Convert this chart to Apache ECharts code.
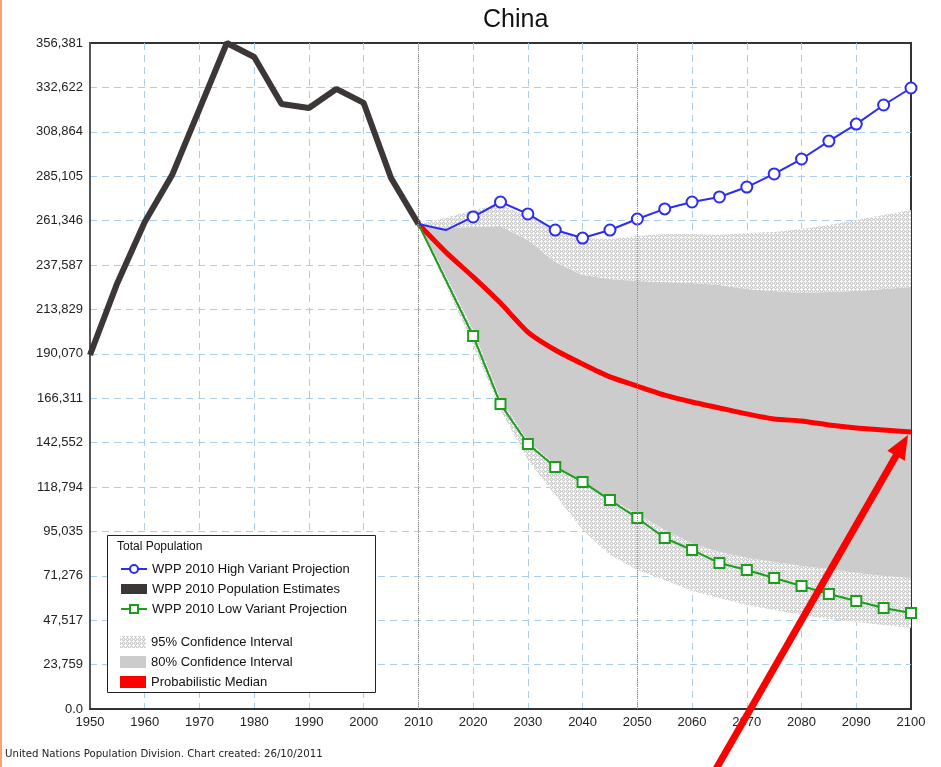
<!DOCTYPE html>
<html>
<head>
<meta charset="utf-8">
<title>China</title>
<script src="https://cdn.jsdelivr.net/npm/echarts@6/dist/echarts.min.js"></script>
<style>
html, body { margin: 0; padding: 0; background: #fff; }
#main { width: 941px; height: 767px; }
</style>
</head>
<body>
<div id="main"></div>
<script>
// population estimates 1950-2010
var estYears = [1950, 1955, 1960, 1965, 1970, 1975, 1980, 1985, 1990, 1995, 2000, 2005, 2010];
var estValues = [189400, 228000, 260600, 285700, 321000, 356381, 348900, 323700, 321600, 331800, 324300, 284100, 259500];

// projections 2010-2100
var projYears = [2010, 2015, 2020, 2025, 2030, 2035, 2040, 2045, 2050, 2055, 2060, 2065, 2070, 2075, 2080, 2085, 2090, 2095, 2100];
var highValues = [259500, 256300, 263300, 271300, 264900, 256300, 252000, 256300, 262200, 267600, 271300, 274000, 279300, 286300, 294300, 303900, 313000, 323200, 332300];
var lowValues = [259500, 229600, 199600, 163200, 141800, 129500, 121500, 111800, 102200, 91500, 85100, 78100, 74400, 70100, 65800, 61500, 57800, 54000, 51400];
var medianValues = [259500, 244500, 231200, 217200, 201700, 192100, 184600, 177700, 172800, 168000, 164300, 161100, 157900, 155200, 154100, 152000, 150400, 149300, 148200];
var lower95 = [259500, 226900, 194800, 160000, 133200, 114500, 95800, 82400, 74400, 69000, 63100, 59400, 55700, 53000, 50300, 48200, 46600, 44900, 43300];
var lower80 = [259500, 232200, 203000, 166000, 143500, 130500, 121500, 112500, 104500, 95800, 88500, 84000, 81000, 78700, 76500, 74900, 72800, 71200, 70100];
var upper80 = [259500, 257400, 257900, 258500, 251000, 239200, 232200, 230100, 229000, 228500, 228000, 226900, 224700, 223700, 222600, 223100, 223700, 224700, 225800];
var upper95 = [259500, 262700, 267000, 269700, 263800, 256800, 252000, 251500, 253100, 254200, 254200, 253600, 254700, 255200, 256800, 259000, 261700, 264300, 267000];

var yTickLabels = ['0.0', '23,759', '47,517', '71,276', '95,035', '118,794', '142,552', '166,311', '190,070',
  '213,829', '237,587', '261,346', '285,105', '308,864', '332,622', '356,381'];
var yMax = 356381;
var yStep = yMax / 15;

var FONT = "'Liberation Sans', Arial, sans-serif";

// 5-year categories along the x axis
var xCategories = estYears.concat(projYears.slice(1)).map(String);

function pairs(xs, ys) {
  return xs.map(function (x, i) { return [String(x), ys[i]]; });
}
function diff(a, b) {
  return a.map(function (v, i) { return v - b[i]; });
}
// the variants carry no marker at 2010 and 2015
function variantData(values) {
  return pairs(projYears, values).map(function (p, i) {
    return i < 2 ? { value: p, symbol: 'none' } : p;
  });
}

// light cross-hatch used for the 95% interval
function hatch() {
  var c = document.createElement('canvas');
  c.width = 4; c.height = 4;
  var ctx = c.getContext('2d');
  ctx.fillStyle = '#d2d2d2';
  ctx.fillRect(0, 0, 4, 4);
  ctx.fillStyle = '#ffffff';
  [[1, 0], [0, 1], [1, 1], [2, 1], [1, 2], [3, 3]].forEach(function (p) { ctx.fillRect(p[0], p[1], 1, 1); });
  return { image: c, repeat: 'repeat' };
}
var hatchFill = hatch();

var chart = echarts.init(document.getElementById('main'));

var bandLine = { width: 0, opacity: 0 };

var option = {
  backgroundColor: '#fff',
  animation: false,
  title: {
    text: 'China',
    left: 478,
    top: 3,
    textStyle: { fontFamily: FONT, fontSize: 25, fontWeight: 'normal', color: '#111' }
  },
  grid: {
    left: 90, right: 30, top: 43, bottom: 58,
    show: true, borderColor: '#333', borderWidth: 2
  },
  xAxis: {
    type: 'category',
    data: xCategories,
    boundaryGap: false,
    axisLine: { show: true, lineStyle: { color: '#333', width: 2 } },
    axisTick: { show: false },
    axisLabel: { color: '#222', fontSize: 13, fontFamily: FONT, margin: 7, interval: 1 },
    splitLine: { show: true, interval: 1, showMinLine: false, showMaxLine: false, lineStyle: { color: '#a9cfe8', type: [7, 5], width: 1 } }
  },
  yAxis: {
    type: 'value',
    min: 0, max: yMax, interval: yStep,
    axisLine: { show: true, lineStyle: { color: '#555', width: 2 } },
    axisTick: { show: false },
    axisLabel: {
      color: '#222', fontSize: 13, fontFamily: FONT, margin: 7,
      formatter: function (v) { return yTickLabels[Math.round(v / yStep)]; }
    },
    splitLine: { show: true, showMinLine: false, showMaxLine: false, lineStyle: { color: '#a9cfe8', type: [7, 5], width: 1 } }
  },
  legend: [
    {
      left: 115, top: 557, orient: 'vertical',
      itemWidth: 26, itemHeight: 10, itemGap: 6,
      selectedMode: false, z: 5,
      textStyle: { fontFamily: FONT, fontSize: 13, color: '#111', lineHeight: 14 },
      data: [
        { name: 'WPP 2010 High Variant Projection' },
        { name: 'WPP 2010 Population Estimates', icon: 'rect', itemStyle: { color: '#3c3636' } },
        { name: 'WPP 2010 Low Variant Projection' }
      ]
    },
    {
      left: 115, top: 630, orient: 'vertical',
      itemWidth: 26, itemHeight: 12, itemGap: 6,
      selectedMode: false, z: 5,
      textStyle: { fontFamily: FONT, fontSize: 13, color: '#111', lineHeight: 14 },
      data: [
        { name: '95% Confidence Interval', icon: 'rect', itemStyle: { color: hatchFill } },
        { name: '80% Confidence Interval', icon: 'rect', itemStyle: { color: '#cccccc' } },
        { name: 'Probabilistic Median', icon: 'rect', itemStyle: { color: '#ff0000' } }
      ]
    }
  ],
  graphic: [
    { id: 'edge', type: 'rect', left: 0, top: 0, shape: { width: 2, height: 767 }, style: { fill: '#f5a46e' } },
    {
      id: 'legendBox', type: 'rect', left: 107, top: 535, z: 4,
      shape: { width: 268, height: 157 },
      style: { fill: '#fff', stroke: '#222', lineWidth: 1 }
    },
    {
      id: 'legendTitle', type: 'text', left: 117, top: 541, z: 5,
      style: { text: 'Total Population', font: '12px ' + FONT, fill: '#111' }
    },
    {
      id: 'footer', type: 'text', left: 5, top: 749,
      style: { text: 'United Nations Population Division. Chart created: 26/10/2011', font: '10.2px "DejaVu Sans", Verdana, sans-serif', fill: '#222' }
    }
  ],
  series: [
    {
      name: 'ciBase', type: 'line', stack: 'ci', silent: true,
      data: pairs(projYears, lower95), showSymbol: false, symbol: 'none',
      lineStyle: bandLine
    },
    {
      name: '95% Confidence Interval', type: 'line', stack: 'ci', silent: true,
      data: pairs(projYears, diff(lower80, lower95)), showSymbol: false, symbol: 'none',
      itemStyle: { color: '#dcdcdc' },
      lineStyle: bandLine, areaStyle: { color: hatchFill, opacity: 1 }
    },
    {
      name: '80% Confidence Interval', type: 'line', stack: 'ci', silent: true,
      data: pairs(projYears, diff(upper80, lower80)), showSymbol: false, symbol: 'none',
      itemStyle: { color: '#cccccc' },
      lineStyle: bandLine, areaStyle: { color: '#cccccc', opacity: 1 }
    },
    {
      name: '95% Confidence Interval', type: 'line', stack: 'ci', silent: true,
      data: pairs(projYears, diff(upper95, upper80)), showSymbol: false, symbol: 'none',
      itemStyle: { color: '#dcdcdc' },
      lineStyle: bandLine, areaStyle: { color: hatchFill, opacity: 1 }
    },
    {
      name: 'WPP 2010 Population Estimates', type: 'line',
      data: pairs(estYears, estValues), showSymbol: false, symbol: 'none',
      itemStyle: { color: '#3c3636' },
      lineStyle: { color: '#3c3636', width: 6 },
      markLine: {
        silent: true, symbol: 'none', label: { show: false },
        lineStyle: { color: '#8a8a8a', type: 'dotted', width: 1 },
        data: [{ xAxis: '2010' }, { xAxis: '2050' }]
      }
    },
    {
      name: 'Probabilistic Median', type: 'line',
      data: pairs(projYears, medianValues), showSymbol: false, symbol: 'none', smooth: 0.2,
      itemStyle: { color: '#ff0000' },
      lineStyle: { color: '#ff0000', width: 5 }
    },
    {
      name: 'WPP 2010 Low Variant Projection', type: 'line',
      data: variantData(lowValues),
      symbol: 'emptyRect', symbolSize: 10,
      itemStyle: { color: '#1c9e1c', borderWidth: 2 },
      lineStyle: { color: '#1c9e1c', width: 2 }
    },
    {
      name: 'WPP 2010 High Variant Projection', type: 'line',
      data: variantData(highValues),
      symbol: 'emptyCircle', symbolSize: 11,
      itemStyle: { color: '#2d2df2', borderWidth: 2 },
      lineStyle: { color: '#2d2df2', width: 2 }
    }
  ]
};

chart.setOption(option);

// red arrow pointing at the 2100 median
var last = projYears.length - 1;
var tip = chart.convertToPixel({ gridIndex: 0 }, [String(projYears[last]), medianValues[last]]);
tip = [tip[0] - 3, tip[1] + 3];
var dx = -192, dy = 334;
var len = Math.sqrt(dx * dx + dy * dy);
var ux = dx / len, uy = dy / len;
var headLen = 24, headHalf = 10;
var base = [tip[0] + ux * headLen, tip[1] + uy * headLen];
var px = -uy, py = ux;
chart.setOption({
  graphic: [
    {
      id: 'arrowShaft', type: 'line', z: 20, silent: true,
      shape: { x1: tip[0] + dx, y1: tip[1] + dy, x2: base[0] - ux * 2, y2: base[1] - uy * 2 },
      style: { stroke: '#ff0000', lineWidth: 7 }
    },
    {
      id: 'arrowHead', type: 'polygon', z: 20, silent: true,
      shape: { points: [tip, [base[0] + px * headHalf, base[1] + py * headHalf], [base[0] - px * headHalf, base[1] - py * headHalf]] },
      style: { fill: '#ff0000' }
    }
  ]
});
</script>
</body>
</html>
